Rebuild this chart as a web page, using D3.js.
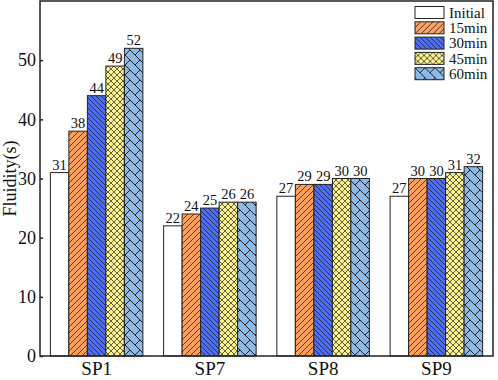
<!DOCTYPE html>
<html>
<head>
<meta charset="utf-8">
<script src="https://cdn.jsdelivr.net/npm/d3@7"></script>
<style>
  body { margin: 0; background: #fff; }
  text { font-family: "Liberation Serif", "Times New Roman", serif; fill: #111; }
</style>
</head>
<body>
<div id="chart"></div>
<script>
(function() {
    const width = 498
    const height = 380

    // data
    const groups = ["SP1", "SP7", "SP8", "SP9"]
    const series = ["Initial", "15min", "30min", "45min", "60min"]
    const initial = [31, 22, 27, 27]
    const min15 = [38, 24, 29, 30]
    const min30 = [44, 25, 29, 30]
    const min45 = [49, 26, 30, 31]
    const min60 = [52, 26, 30, 32]
    const yTicks = [0, 10, 20, 30, 40, 50]

    const values = [initial, min15, min30, min45, min60]
    const rows = []
    groups.forEach((g, gi) => {
        series.forEach((s, si) => rows.push({ group: g, series: s, value: values[si][gi] }))
    })

    const margin = { left: 40, right: 5, top: 1, bottom: 24 }

    const svg = d3.select("#chart")
        .append("svg")
        .attr("width", width)
        .attr("height", height)

    // patterns
    const defs = svg.append("defs")
    const fills = {
        "Initial": "#ffffff",
        "15min": "#ffa05c",
        "30min": "#4d6ef2",
        "45min": "#fbf28e",
        "60min": "#8db9e6"
    }
    function pattern(id, size, bg, path, sw) {
        const p = defs.append("pattern")
            .attr("id", id)
            .attr("patternUnits", "userSpaceOnUse")
            .attr("width", size)
            .attr("height", size)
        p.append("rect").attr("width", size).attr("height", size).attr("fill", bg)
        p.append("path").attr("d", path).attr("stroke", "#222").attr("stroke-width", sw).attr("fill", "none")
    }
    pattern("p15", 6, fills["15min"], "M0,6 L6,0 M-1,1 L1,-1 M5,7 L7,5", 0.8)
    pattern("p30", 5, fills["30min"], "M0,0 L5,5 M-1,4 L1,6 M4,-1 L6,1", 0.8)
    pattern("p45", 6, fills["45min"], "M0,0 L6,6 M0,6 L6,0", 0.7)
    pattern("p60", 10, fills["60min"], "M0,0 L10,10 M5,5 L10,0", 1)
    const fillOf = {
        "Initial": "#ffffff",
        "15min": "url(#p15)",
        "30min": "url(#p30)",
        "45min": "url(#p45)",
        "60min": "url(#p60)"
    }

    // scales
    const x0 = d3.scaleBand()
        .domain(groups)
        .range([margin.left, width - margin.right])
        .padding(0)
    const x1 = d3.scaleBand()
        .domain(series)
        .range([0, x0.bandwidth()])
        .paddingInner(0)
        .paddingOuter(0.56)
    const y = d3.scaleLinear()
        .domain([0, 60])
        .range([height - margin.bottom, margin.top])

    // bars
    svg.append("g")
        .selectAll("rect")
        .data(rows)
        .join("rect")
        .attr("x", d => x0(d.group) + x1(d.series))
        .attr("y", d => y(d.value))
        .attr("width", x1.bandwidth())
        .attr("height", d => y(0) - y(d.value))
        .attr("fill", d => fillOf[d.series])
        .attr("stroke", "#222")
        .attr("stroke-width", 1)

    // value labels
    svg.append("g")
        .selectAll("text")
        .data(rows)
        .join("text")
        .attr("x", d => x0(d.group) + x1(d.series) + x1.bandwidth() / 2)
        .attr("y", d => y(d.value) - 3)
        .attr("text-anchor", "middle")
        .style("font-size", "14.5px")
        .text(d => d.value)

    // frame
    svg.append("rect")
        .attr("x", margin.left)
        .attr("y", margin.top)
        .attr("width", width - margin.left - margin.right)
        .attr("height", y(0) - margin.top)
        .attr("fill", "none")
        .attr("stroke", "#222")
        .attr("stroke-width", 1.5)

    // y axis
    const yAxis = svg.append("g")
        .attr("transform", `translate(${margin.left},0)`)
        .call(d3.axisLeft(y).tickValues(yTicks).tickSizeInner(-3).tickSizeOuter(0).tickPadding(4))
    yAxis.select(".domain").remove()
    yAxis.selectAll("line").attr("stroke", "#222").attr("stroke-width", 1.5)
    yAxis.selectAll("text").style("font-size", "18px").style("font-family", "Liberation Serif, serif")

    // x axis
    const xAxis = svg.append("g")
        .attr("transform", `translate(0,${y(0)})`)
        .call(d3.axisBottom(x0).tickSize(0).tickPadding(6))
    xAxis.select(".domain").remove()
    xAxis.selectAll("text").style("font-size", "19px").style("font-family", "Liberation Serif, serif")

    // y label
    svg.append("text")
        .attr("transform", `translate(16,${(margin.top + y(0)) / 2}) rotate(-90)`)
        .attr("text-anchor", "middle")
        .style("font-size", "18px")
        .text("Fluidity(s)")

    // legend
    const legend = svg.append("g")
        .attr("transform", "translate(415,6.5)")
    const li = legend.selectAll("g")
        .data(series)
        .join("g")
        .attr("transform", (d, i) => `translate(0,${i * 15.3})`)
    li.append("rect")
        .attr("width", 29)
        .attr("height", 12)
        .attr("fill", d => fillOf[d])
        .attr("stroke", "#222")
        .attr("stroke-width", 1)
    li.append("text")
        .attr("x", 34)
        .attr("y", 6)
        .attr("dy", "0.35em")
        .style("font-size", "15px")
        .text(d => d)
})();
</script>
</body>
</html>
